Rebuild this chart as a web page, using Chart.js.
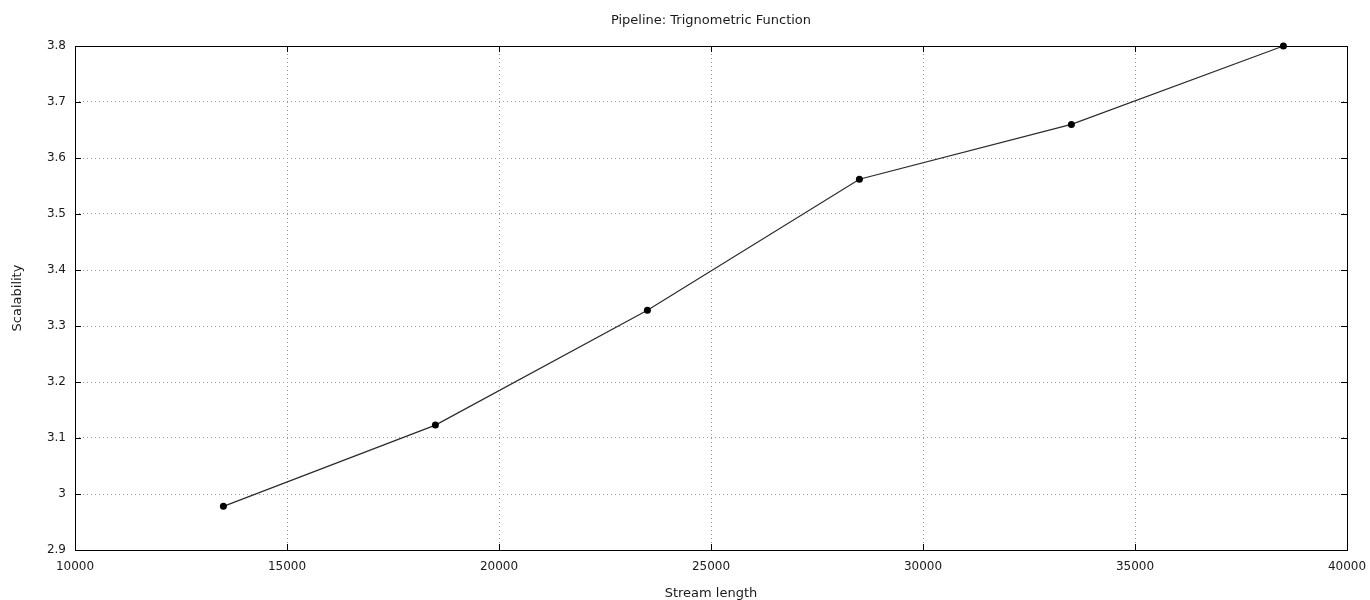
<!DOCTYPE html>
<html>
<head>
<meta charset="utf-8">
<script src="https://cdn.jsdelivr.net/npm/chart.js@4"></script>
<style>
  html, body { margin: 0; padding: 0; background: #fff; }
  #plot_container { width: 1370px; height: 600px; }
</style>
</head>
<body>
<div id="plot_container"><canvas id="scalability_plot" width="1370" height="600"></canvas></div>
<script>
// data
const STREAM_LENGTH = [13500, 18500, 23500, 28500, 33500, 38500];
const SCALABILITY = [2.978, 3.123, 3.328, 3.562, 3.660, 3.800];

const X_MIN = 10000, X_MAX = 40000, X_STEP = 5000;
const Y_MIN = 2.9, Y_MAX = 3.8, Y_STEP = 0.1;

const FONT = "'DejaVu Sans', sans-serif";

// gnuplot-ish frame: full border plus inward tick marks on all four sides
const framePlugin = {
  id: 'frame',
  afterDatasetsDraw(chart) {
    const ctx = chart.ctx, a = chart.chartArea;
    const xs = chart.scales.x, ys = chart.scales.y;
    const len = 6;
    ctx.save();
    ctx.strokeStyle = '#000';
    ctx.lineWidth = 1;
    ctx.beginPath();
    xs.ticks.forEach(t => {
      const px = Math.round(xs.getPixelForValue(t.value)) + 0.5;
      ctx.moveTo(px, a.bottom); ctx.lineTo(px, a.bottom - len);
      ctx.moveTo(px, a.top); ctx.lineTo(px, a.top + len);
    });
    ys.ticks.forEach(t => {
      const py = Math.round(ys.getPixelForValue(t.value)) + 0.5;
      ctx.moveTo(a.left, py); ctx.lineTo(a.left + len, py);
      ctx.moveTo(a.right, py); ctx.lineTo(a.right - len, py);
    });
    ctx.stroke();
    ctx.strokeRect(Math.round(a.left) + 0.5, Math.round(a.top) + 0.5,
                   Math.round(a.right - a.left), Math.round(a.bottom - a.top));
    ctx.restore();
  }
};

function plotScalability() {
  const points = STREAM_LENGTH.map((x, i) => ({x: x, y: SCALABILITY[i]}));
  let ctx = document.getElementById('scalability_plot');
  window.scalability_plot = new Chart(ctx, {
    type: 'line',
    data: {
      datasets: [{
        data: points,
        fill: false,
        clip: false,
        borderColor: '#2a2a2a',
        borderWidth: 1.2,
        pointRadius: 3.5,
        pointBackgroundColor: '#000',
        pointBorderWidth: 0,
        tension: 0,
      }]
    },
    options: {
      responsive: false,
      animation: false,
      layout: { padding: { left: 0, right: 23, top: 0, bottom: 0 } },
      plugins: {
        title: {
          display: true,
          fullSize: false,
          text: 'Pipeline: Trignometric Function',
          color: '#1a1a1a',
          font: { family: FONT, size: 13, weight: 'normal' },
          padding: { top: 13, bottom: 17.4 }
        },
        legend: { display: false },
        tooltip: { enabled: false }
      },
      scales: {
        x: {
          type: 'linear',
          min: X_MIN,
          max: X_MAX,
          afterFit: s => { s.height = 50; s.paddingLeft = 0; s.paddingRight = 0; },
          ticks: {
            stepSize: X_STEP,
            color: '#1a1a1a',
            padding: 10,
            maxRotation: 0,
            font: { family: FONT, size: 12 },
            callback: v => String(v)
          },
          grid: {
            color: '#9a9a9a',
            drawTicks: false,
          },
          border: { display: false, dash: [1, 3] },
          title: {
            display: true,
            text: 'Stream length',
            color: '#1a1a1a',
            font: { family: FONT, size: 13 },
            padding: { top: 0, bottom: -1 }
          }
        },
        y: {
          type: 'linear',
          min: Y_MIN,
          max: Y_MAX,
          afterFit: s => { s.width = 75; },
          ticks: {
            stepSize: Y_STEP,
            color: '#1a1a1a',
            padding: 9,
            font: { family: FONT, size: 12 },
            callback: v => String(Math.round(v * 10) / 10)
          },
          grid: {
            color: '#9a9a9a',
            drawTicks: false,
          },
          border: { display: false, dash: [1, 3] },
          title: {
            display: true,
            text: 'Scalability',
            color: '#1a1a1a',
            font: { family: FONT, size: 13 },
            padding: { top: 10, bottom: 0 }
          }
        }
      }
    },
    plugins: [framePlugin]
  });
}

function init() {
  plotScalability();
}
window.onload = init();
</script>
</body>
</html>
